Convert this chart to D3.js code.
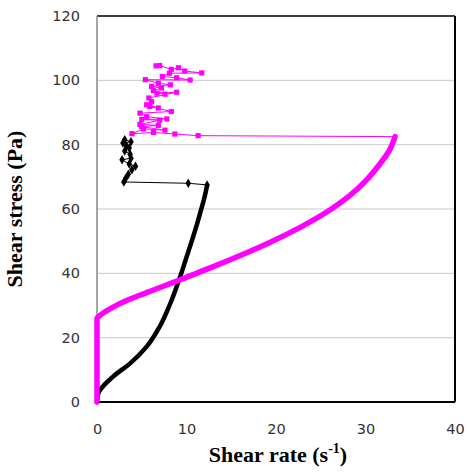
<!DOCTYPE html>
<html><head><meta charset="utf-8">
<script src="https://cdn.jsdelivr.net/npm/d3@7"></script>
<style>body{margin:0;background:#fff}svg{display:block}</style>
</head><body>
<script>
// ---- data ----
const xTicks = [0, 10, 20, 30, 40];
const yTicks = [0, 20, 40, 60, 80, 100, 120];
const xTitle = "Shear rate (s";
const yTitle = "Shear stress (Pa)";

// magenta: ramp-up (dense, thick) part
const magentaRampX = [0, 0, 0.2, 1.8, 3.7, 5.55, 7.4, 9.3, 11.1, 13.0, 15.2, 19.0, 22.7, 26.4, 28.3, 30.1, 31.6, 32.7, 33.3];
const magentaRampY = [0, 26, 26.6, 29.5, 32.0, 34.0, 36.0, 38.0, 40.0, 42.1, 44.6, 49.2, 54.3, 60.4, 64.3, 69.0, 74.0, 78.4, 82.5];
// magenta: after-peak part (thin line with square markers)
const magentaTailX = [33.3, 11.3, 8.7, 6.3, 3.9, 5.2, 7.6, 5.0, 6.85, 4.8, 7.0, 5.0, 7.8, 5.55, 4.8, 8.3, 5.9, 6.85, 5.55, 6.1, 5.8, 8.9, 6.7, 7.6, 6.3, 7.2, 6.1, 8.2, 6.85, 5.4, 10.4, 8.9, 7.3, 8.1, 11.7, 9.8, 9.1, 8.3, 7.0, 6.6];
const magentaTailY = [82.5, 82.8, 83.3, 83.8, 83.4, 84.9, 84.5, 85.6, 86.0, 86.3, 87.6, 87.8, 88.0, 88.7, 89.8, 90.3, 91.9, 91.4, 92.4, 93.4, 94.5, 96.3, 96.0, 95.7, 96.8, 97.6, 98.1, 98.6, 99.1, 100.2, 100.1, 100.8, 101.2, 102.2, 102.3, 102.9, 103.9, 103.4, 104.6, 104.5];

// black: ramp-up part
const blackRampX = [0, 0.15, 1.8, 3.7, 5.55, 7.0, 8.2, 9.3, 10.0, 10.7, 11.2, 11.6, 12.0, 12.3];
const blackRampY = [0, 2.7, 7.9, 12.0, 17.2, 23.4, 30.7, 39.0, 45.0, 51.0, 55.5, 59.5, 63.5, 67.3];
// black: after-peak part
const blackTailX = [12.3, 10.2, 3.0, 3.2, 3.5, 3.9, 4.3, 3.6, 2.8, 3.8, 3.7, 3.1, 3.6, 3.3, 2.9, 3.8, 3.1];
const blackTailY = [67.5, 68.0, 68.4, 69.5, 70.8, 72.2, 73.3, 74.0, 75.3, 75.8, 77.0, 78.0, 79.0, 79.6, 80.5, 80.9, 81.5];

// ---- drawing ----
const W = 466, H = 473;
const m = {left: 97, right: 11, top: 16, bottom: 71};
const svg = d3.select("body").append("svg").attr("width", W).attr("height", H);
const x = d3.scaleLinear().domain([0, 40]).range([m.left, W - m.right]);
const y = d3.scaleLinear().domain([0, 120]).range([H - m.bottom, m.top]);

// gridlines
svg.append("g").selectAll("line").data(yTicks.filter(v => v > 0 && v < 120)).join("line")
  .attr("x1", x(0)).attr("x2", x(40)).attr("y1", d => y(d)).attr("y2", d => y(d))
  .attr("stroke", "#c8c8c8").attr("stroke-width", 1);

// frame
svg.append("line").attr("x1", x(0)).attr("x2", x(40)).attr("y1", y(120)).attr("y2", y(120)).attr("stroke", "#000").attr("stroke-width", 1.5);
svg.append("line").attr("x1", x(40)).attr("x2", x(40)).attr("y1", y(120)).attr("y2", y(0)).attr("stroke", "#000").attr("stroke-width", 2);
svg.append("line").attr("x1", x(0)).attr("x2", x(40)).attr("y1", y(0)).attr("y2", y(0)).attr("stroke", "#000").attr("stroke-width", 2);
svg.append("line").attr("x1", x(0)).attr("x2", x(0)).attr("y1", y(120)).attr("y2", y(0)).attr("stroke", "#888").attr("stroke-width", 1.5);

// axes (labels only)
const tickFont = "DejaVu Sans, sans-serif";
const xAxis = svg.append("g").attr("transform", `translate(0,${y(0)})`)
  .call(d3.axisBottom(x).tickValues(xTicks).tickSize(0).tickPadding(22));
const yAxis = svg.append("g").attr("transform", `translate(${x(0)},0)`)
  .call(d3.axisLeft(y).tickValues(yTicks).tickSize(0).tickPadding(17));
[xAxis, yAxis].forEach(a => {
  a.select(".domain").remove();
  a.selectAll("text").attr("font-family", tickFont).attr("font-size", 14.5).attr("fill", "#333");
});

const pts = (xs, ys) => xs.map((v, i) => [x(v), y(ys[i])]);
const line = d3.line();
const smooth = d3.line().curve(d3.curveMonotoneY);

// black series
svg.append("path").attr("d", line(pts(blackTailX, blackTailY))).attr("fill", "none").attr("stroke", "#000").attr("stroke-width", 1);
svg.append("path").attr("d", smooth(pts(blackRampX, blackRampY))).attr("fill", "none").attr("stroke", "#000").attr("stroke-width", 4.5).attr("stroke-linecap", "round");
svg.append("g").selectAll("path").data(pts(blackTailX, blackTailY)).join("path")
  .attr("d", d3.symbol(d3.symbolDiamond, 26)())
  .attr("transform", d => `translate(${d[0]},${d[1]})`).attr("fill", "#000");

// magenta series
svg.append("path").attr("d", line(pts(magentaTailX, magentaTailY))).attr("fill", "none").attr("stroke", "#ff00ff").attr("stroke-width", 1);
svg.append("path").attr("d", smooth(pts(magentaRampX, magentaRampY))).attr("fill", "none").attr("stroke", "#ff00ff").attr("stroke-width", 5.5).attr("stroke-linejoin", "round").attr("stroke-linecap", "round");
svg.append("g").selectAll("rect").data(pts(magentaTailX, magentaTailY).slice(1)).join("rect")
  .attr("x", d => d[0] - 2.6).attr("y", d => d[1] - 2.6).attr("width", 5.2).attr("height", 5.2).attr("fill", "#ff00ff");

// axis titles
const titleFont = "Liberation Serif, Times New Roman, serif";
const xt = svg.append("text").attr("x", (x(0) + x(40)) / 2 + 2).attr("y", 462)
  .attr("text-anchor", "middle").attr("font-family", titleFont).attr("font-weight", "bold").attr("font-size", 22);
xt.append("tspan").text(xTitle);
xt.append("tspan").attr("dy", -9).attr("font-size", 14).text("-1");
xt.append("tspan").attr("dy", 9).text(")");
svg.append("text").attr("transform", `translate(22,${(y(0) + y(120)) / 2}) rotate(-90)`)
  .attr("text-anchor", "middle").attr("font-family", titleFont).attr("font-weight", "bold").attr("font-size", 22)
  .text(yTitle);
</script>
</body></html>
